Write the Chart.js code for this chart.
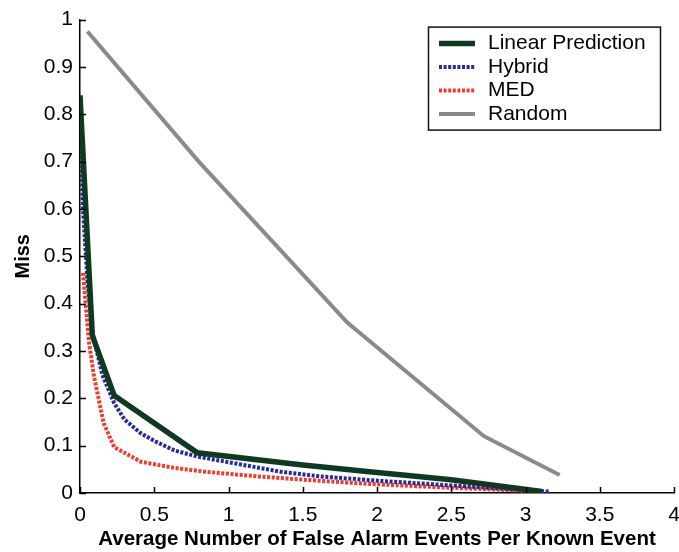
<!DOCTYPE html>
<html>
<head>
<meta charset="utf-8">
<script src="https://cdn.jsdelivr.net/npm/chart.js@4.4.1/dist/chart.umd.min.js"></script>
<style>
  html, body { margin: 0; padding: 0; background: #fff; }
  #wrap { width: 679px; height: 552px; }
</style>
</head>
<body>
<div id="wrap"><canvas id="c"></canvas></div>
<script>
// Miss rate versus average number of false alarm events per known event
const seriesNames = ['Linear Prediction', 'Hybrid', 'MED', 'Random'];

const linearX = [0, 0.083, 0.23, 0.79, 1.5, 1.95, 2.5, 3.11];
const linearY = [0.84, 0.333, 0.206, 0.085, 0.059, 0.045, 0.028, 0.003];

const hybridX = [0, 0.02, 0.05, 0.083, 0.15, 0.23, 0.3, 0.41, 0.5, 0.635, 0.79, 1.0, 1.35, 1.62, 2.0, 2.5, 2.9, 3.16];
const hybridY = [0.78, 0.6, 0.45, 0.34, 0.25, 0.19, 0.155, 0.126, 0.11, 0.09, 0.077, 0.065, 0.045, 0.035, 0.026, 0.016, 0.008, 0.003];

const medX = [0.02, 0.06, 0.095, 0.16, 0.23, 0.41, 0.635, 0.84, 1.2, 1.6, 1.96, 2.5, 3.06];
const medY = [0.465, 0.32, 0.245, 0.147, 0.097, 0.066, 0.053, 0.045, 0.035, 0.026, 0.019, 0.011, 0.004];

const randomX = [0.05, 0.8, 1.8, 2.72, 3.23];
const randomY = [0.975, 0.70, 0.36, 0.12, 0.038];

const xTicks = [0, 0.5, 1, 1.5, 2, 2.5, 3, 3.5, 4];
const yTicks = [0, 0.1, 0.2, 0.3, 0.4, 0.5, 0.6, 0.7, 0.8, 0.9, 1];

const FONT = '"Liberation Sans", Arial, sans-serif';

function pts(xs, ys) { return xs.map((x, i) => ({ x: x, y: ys[i] })); }

// Inward tick marks on the left and bottom axes
const innerTicks = {
  id: 'innerTicks',
  afterDatasetsDraw(chart) {
    const { ctx, chartArea, scales } = chart;
    ctx.save();
    ctx.strokeStyle = '#000';
    ctx.lineWidth = 1.5;
    ctx.beginPath();
    xTicks.forEach(v => {
      const px = Math.round(scales.x.getPixelForValue(v)) + 0.5;
      ctx.moveTo(px, chartArea.bottom);
      ctx.lineTo(px, chartArea.bottom - 6);
    });
    yTicks.forEach(v => {
      const py = Math.round(scales.y.getPixelForValue(v)) + 0.5;
      ctx.moveTo(chartArea.left, py);
      ctx.lineTo(chartArea.left + 6, py);
    });
    ctx.stroke();
    ctx.restore();
  }
};

// Boxed legend in the upper right of the plot
const boxLegend = {
  id: 'boxLegend',
  afterDraw(chart) {
    const { ctx, chartArea } = chart;
    const right = chartArea.right - 14;
    const left = right - 232;
    const top = chartArea.top + 7;
    const h = 103;
    ctx.save();
    ctx.fillStyle = '#fff';
    ctx.fillRect(left, top, right - left, h);
    ctx.strokeStyle = '#111';
    ctx.lineWidth = 1.5;
    ctx.strokeRect(left + 0.5, top + 0.5, right - left, h);
    ctx.font = '21px ' + FONT;
    ctx.textBaseline = 'middle';
    chart.data.datasets.forEach((ds, i) => {
      const cy = top + 17 + i * 23.5;
      ctx.strokeStyle = ds.borderColor;
      ctx.lineWidth = ds.borderWidth;
      ctx.setLineDash(ds.borderDash || []);
      ctx.lineCap = 'butt';
      ctx.beginPath();
      ctx.moveTo(left + 11, cy);
      ctx.lineTo(left + 47, cy);
      ctx.stroke();
      ctx.setLineDash([]);
      ctx.fillStyle = '#000';
      ctx.fillText(ds.label, left + 60, cy);
    });
    ctx.restore();
  }
};

const fmt = v => String(Math.round(v * 10) / 10);

new Chart(document.getElementById('c'), {
  type: 'scatter',
  data: {
    datasets: [
      { label: seriesNames[0], data: pts(linearX, linearY), showLine: true, borderColor: '#0e3a20', borderWidth: 5.5, pointRadius: 0 },
      { label: seriesNames[1], data: pts(hybridX, hybridY), showLine: true, borderColor: '#25289e', borderWidth: 4, borderDash: [3, 1.6], pointRadius: 0 },
      { label: seriesNames[2], data: pts(medX, medY), showLine: true, borderColor: '#f23a2c', borderWidth: 4, borderDash: [3, 1.6], pointRadius: 0 },
      { label: seriesNames[3], data: pts(randomX, randomY), showLine: true, borderColor: '#8a8a8a', borderWidth: 4, pointRadius: 0 }
    ]
  },
  options: {
    responsive: true,
    maintainAspectRatio: false,
    animation: false,
    layout: { padding: { top: 13, right: 0, left: 0, bottom: 0 } },
    plugins: { legend: { display: false }, tooltip: { enabled: false } },
    scales: {
      x: {
        type: 'linear', min: 0, max: 4,
        afterBuildTicks: s => { s.ticks = xTicks.map(v => ({ value: v })); },
        afterFit: s => { s.height = 59; s.paddingRight = 5; },
        ticks: { color: '#000', font: { family: FONT, size: 21 }, padding: 10, maxRotation: 0, callback: fmt },
        grid: { display: false, drawTicks: false },
        border: { display: true, color: '#000', width: 1.5 },
        title: { display: true, text: 'Average Number of False Alarm Events Per Known Event', color: '#000', font: { family: FONT, size: 20.5, weight: 'bold' }, padding: { top: 0, bottom: 0 } }
      },
      y: {
        type: 'linear', min: 0, max: 1,
        afterBuildTicks: s => { s.ticks = yTicks.map(v => ({ value: v })); },
        afterFit: s => { s.width = 80; },
        ticks: { color: '#000', font: { family: FONT, size: 21 }, padding: 7, callback: fmt },
        grid: { display: false, drawTicks: false },
        border: { display: true, color: '#000', width: 1.5 },
        title: { display: true, text: 'Miss', color: '#000', font: { family: FONT, size: 20, weight: 'bold' }, padding: { top: 11, bottom: 0 } }
      }
    }
  },
  plugins: [innerTicks, boxLegend]
});
</script>
</body>
</html>
